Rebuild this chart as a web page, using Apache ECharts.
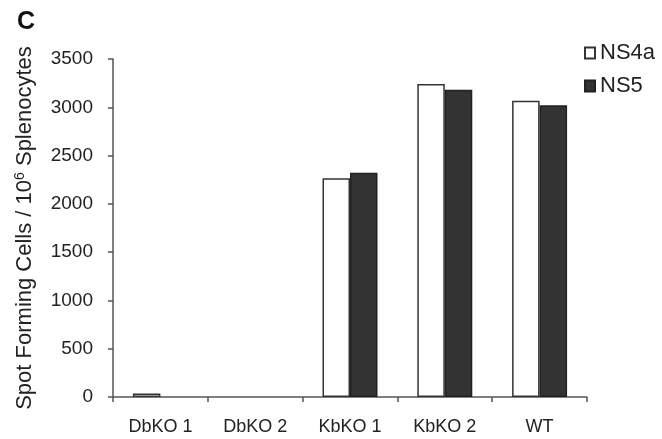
<!DOCTYPE html>
<html>
<head>
<meta charset="utf-8">
<script src="https://cdn.jsdelivr.net/npm/echarts@6/dist/echarts.min.js"></script>
<style>html,body{margin:0;padding:0;background:#fff}#c{width:662px;height:439px}</style>
</head>
<body>
<div id="c"></div>
<script>
const categories = ['DbKO 1', 'DbKO 2', 'KbKO 1', 'KbKO 2', 'WT'];
const ns4a = [35, 0, 2265, 3242, 3068];
const ns5 = [0, 0, 2322, 3182, 3022];
const seriesNames = ['NS4a', 'NS5'];
const yMin = 0, yMax = 3500, yStep = 500;

const FONT = '"Liberation Sans", Arial, sans-serif';
function toItems(arr) {
  return arr.map(v => v === 0 ? {value: v, itemStyle: {borderWidth: 0}} : v);
}
const chart = echarts.init(document.getElementById('c'), null, {renderer: 'canvas'});
chart.setOption({
  animation: false,
  backgroundColor: '#fff',
  title: {
    text: 'C', left: 12, top: 5,
    textStyle: {fontFamily: FONT, fontSize: 25, fontWeight: 'bold', color: '#111'}
  },
  legend: {
    orient: 'vertical', left: 579, top: 37,
    itemWidth: 10, itemHeight: 11, itemGap: 11,
    icon: 'rect',
    textStyle: {fontFamily: FONT, fontSize: 22, color: '#222'},
    data: seriesNames
  },
  grid: {left: 113, right: 75, top: 59, bottom: 42, containLabel: false},
  xAxis: {
    type: 'category', data: categories,
    axisLine: {lineStyle: {color: '#555', width: 1.5}},
    axisTick: {show: true, length: 5, inside: false, lineStyle: {color: '#555', width: 1.5}},
    axisLabel: {fontFamily: FONT, fontSize: 18, color: '#222', margin: 21}
  },
  yAxis: {
    type: 'value', min: yMin, max: yMax, interval: yStep,
    name: 'Spot Forming Cells / 10{sup|6} Splenocytes',
    nameLocation: 'middle', nameGap: 76,
    nameTextStyle: {
      fontFamily: FONT, fontSize: 22, color: '#222',
      rich: {sup: {fontFamily: FONT, fontSize: 14, color: '#222', padding: [0, 0, 10, 0]}}
    },
    splitLine: {show: false},
    axisLine: {show: true, lineStyle: {color: '#555', width: 1.5}},
    axisTick: {show: true, length: 5, lineStyle: {color: '#555', width: 1.5}},
    axisLabel: {fontFamily: FONT, fontSize: 19, color: '#222', margin: 20, formatter: v => String(v)}
  },
  series: [
    {
      name: seriesNames[0], type: 'bar', data: toItems(ns4a),
      barGap: '0%', barCategoryGap: '42%',
      itemStyle: {color: '#ffffff', borderColor: '#333', borderWidth: 1.5}
    },
    {
      name: seriesNames[1], type: 'bar', data: toItems(ns5),
      barGap: '0%', barCategoryGap: '42%',
      itemStyle: {color: '#333333', borderColor: '#222', borderWidth: 1.5}
    }
  ]
});
</script>
</body>
</html>
